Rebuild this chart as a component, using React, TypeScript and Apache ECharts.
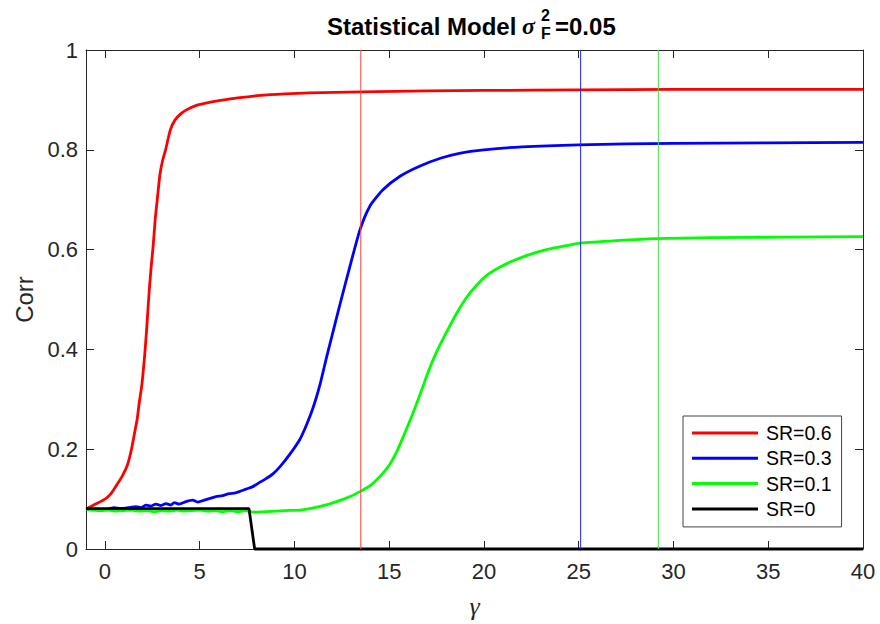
import React, { useEffect, useRef } from "react";
import * as echarts from "echarts";

// ---- data ----
const xTickValues = [0, 5, 10, 15, 20, 25, 30, 35, 40];
const seriesNames = ["SR=0.6", "SR=0.3", "SR=0.1", "SR=0"];

const redX = [-1, -0.5, 0, 0.3, 0.6, 0.9, 1.2, 1.4, 1.55, 1.7, 1.8, 1.95, 2.1, 2.2, 2.34, 2.45, 2.55, 2.65, 2.76, 2.9, 3.05, 3.2, 3.45, 3.7, 4.0, 4.3, 4.9, 5.5, 6.1, 7, 8.2, 9.5, 10.8, 13.5, 17, 20, 25, 30, 35, 40];
const redY = [0.08, 0.09, 0.1, 0.11, 0.127, 0.145, 0.17, 0.2, 0.23, 0.26, 0.29, 0.33, 0.39, 0.44, 0.52, 0.57, 0.61, 0.66, 0.7, 0.75, 0.78, 0.8, 0.84, 0.86, 0.872, 0.88, 0.89, 0.895, 0.899, 0.904, 0.909, 0.912, 0.914, 0.916, 0.918, 0.919, 0.92, 0.921, 0.921, 0.921];

const blueX = [-1, -0.5, 0, 0.5, 0.8, 1.1, 1.4, 1.64, 1.9, 2.17, 2.43, 2.69, 2.96, 3.22, 3.48, 3.66, 3.92, 4.28, 4.63, 4.89, 5.16, 5.51, 5.86, 6.21, 6.56, 6.83, 7.09, 7.44, 7.8, 8.15, 8.5, 8.85, 9.24, 9.76, 10.29, 10.65, 11.0, 11.35, 11.7, 12.0, 12.4, 12.93, 13.46, 13.98, 14.67, 15.57, 16.6, 17.7, 18.7, 20, 22, 25, 30, 35, 40];
const blueY = [0.08, 0.08, 0.079, 0.083, 0.081, 0.082, 0.084, 0.085, 0.083, 0.088, 0.086, 0.09, 0.087, 0.091, 0.088, 0.093, 0.09, 0.095, 0.098, 0.094, 0.097, 0.101, 0.105, 0.107, 0.111, 0.112, 0.115, 0.12, 0.125, 0.133, 0.141, 0.15, 0.165, 0.19, 0.22, 0.25, 0.285, 0.33, 0.385, 0.43, 0.49, 0.567, 0.64, 0.687, 0.72, 0.747, 0.767, 0.783, 0.793, 0.8, 0.806, 0.81, 0.813, 0.814, 0.815];

const greenX = [-1, -0.6, -0.2, 0.2, 0.6, 1.0, 1.4, 1.8, 2.2, 2.6, 3.0, 3.4, 3.8, 4.2, 4.6, 5.0, 5.4, 5.8, 6.2, 6.6, 7.0, 7.4, 7.8, 8.5, 9.5, 10.3, 10.8, 11.4, 11.9, 12.6, 13.0, 13.55, 14.0, 14.5, 15.0, 15.4, 15.74, 16.2, 16.63, 17.06, 17.5, 18.1, 18.6, 19.1, 19.6, 20.1, 20.8, 21.5, 22.4, 23.3, 24.2, 25.1, 27, 29, 32, 36, 40];
const greenY = [0.08, 0.078, 0.077, 0.078, 0.076, 0.077, 0.078, 0.076, 0.077, 0.075, 0.077, 0.076, 0.078, 0.076, 0.077, 0.078, 0.076, 0.077, 0.075, 0.077, 0.075, 0.077, 0.074, 0.075, 0.077, 0.078, 0.081, 0.086, 0.091, 0.1, 0.106, 0.117, 0.127, 0.145, 0.168, 0.195, 0.225, 0.267, 0.31, 0.355, 0.395, 0.44, 0.475, 0.505, 0.528, 0.547, 0.564, 0.577, 0.59, 0.6, 0.607, 0.613, 0.618, 0.622, 0.624, 0.625, 0.626];

const blackX = [-1, 7.6, 7.9, 40];
const blackY = [0.081, 0.081, 0, 0];

const thresholdX = [13.5, 25.1, 29.2];

const zip = (xs: number[], ys: number[]) => xs.map((x, i) => [x, ys[i]]);

const FONT = "'Liberation Sans', Arial, Helvetica, sans-serif";
const AX = "#262626";

export default function App() {
  const ref = useRef<HTMLDivElement>(null);
  useEffect(() => {
    if (!ref.current) return;
    const chart = echarts.init(ref.current, null, { renderer: "svg" });
    const curve = (name: string, color: string, data: number[][], z: number, smooth: number) => ({
      name,
      type: "line",
      data,
      showSymbol: false,
      symbol: "none",
      clip: false,
      smooth,
      z,
      lineStyle: { color, width: 2.8 },
      itemStyle: { color },
    });
    const vline = (x: number, color: string) => ({
      name: "v" + x,
      type: "line",
      data: [[x, 0], [x, 1]],
      symbol: "none",
      silent: true,
      z: 10,
      lineStyle: { color, width: 1 },
      itemStyle: { color },
    });
    const axisCommon = {
      axisLine: { show: true, onZero: false, lineStyle: { color: AX, width: 1 } },
      splitLine: { show: false },
    };
    chart.setOption({
      animation: false,
      backgroundColor: "#ffffff",
      grid: { left: 86, right: 17, top: 50, bottom: 74, containLabel: false },
      xAxis: [
        {
          type: "value",
          min: -1,
          max: 40,
          ...axisCommon,
          name: "γ",
          nameLocation: "middle",
          nameGap: 44,
          nameTextStyle: { fontFamily: "'Liberation Serif', 'DejaVu Serif', serif", fontStyle: "italic", fontSize: 26, color: AX },
          axisTick: { inside: true, length: 8, customValues: xTickValues, lineStyle: { color: AX } },
          axisLabel: { customValues: xTickValues, fontFamily: FONT, fontSize: 22, color: AX, margin: 11 },
        },
        {
          type: "value",
          position: "top",
          min: -1,
          max: 40,
          ...axisCommon,
          axisTick: { inside: true, length: 8, customValues: xTickValues, lineStyle: { color: AX } },
          axisLabel: { show: false, customValues: xTickValues },
        },
      ],
      yAxis: [
        {
          type: "value",
          min: 0,
          max: 1,
          interval: 0.2,
          ...axisCommon,
          name: "Corr",
          nameLocation: "middle",
          nameGap: 50,
          nameTextStyle: { fontFamily: FONT, fontSize: 24, color: AX },
          axisTick: { inside: true, length: 8, lineStyle: { color: AX } },
          axisLabel: { fontFamily: FONT, fontSize: 22, color: AX, margin: 8 },
        },
        {
          type: "value",
          position: "right",
          min: 0,
          max: 1,
          interval: 0.2,
          ...axisCommon,
          axisTick: { inside: true, length: 8, lineStyle: { color: AX } },
          axisLabel: { show: false },
        },
      ],
      legend: {
        data: seriesNames,
        orient: "vertical",
        left: 683,
        top: 416,
        icon: "rect",
        itemWidth: 66,
        itemHeight: 3,
        itemGap: 5.3,
        padding: [7, 10, 8, 9],
        backgroundColor: "#ffffff",
        borderColor: "#444",
        borderWidth: 1,
        textStyle: { fontFamily: FONT, fontSize: 19.5, lineHeight: 20, color: "#000", padding: [0, 0, 0, 3] },
      },
      graphic: [
        { type: "text", left: 327, top: 14, style: { text: "Statistical Model", font: `bold 24px ${FONT}`, fill: "#000" } },
        { type: "text", left: 522, top: 14, style: { text: "σ", font: `italic bold 24px 'Liberation Serif', 'DejaVu Serif', serif`, fill: "#000" } },
        { type: "text", left: 541, top: 7, style: { text: "2", font: `bold 16px ${FONT}`, fill: "#000" } },
        { type: "text", left: 541, top: 25, style: { text: "F", font: `bold 16px ${FONT}`, fill: "#000" } },
        { type: "text", left: 555, top: 14, style: { text: "=0.05", font: `bold 24px ${FONT}`, fill: "#000" } },
      ],
      series: [
        curve(seriesNames[0], "#ff0000", zip(redX, redY), 2, 0.2),
        curve(seriesNames[1], "#0000ff", zip(blueX, blueY), 3, 0.2),
        curve(seriesNames[2], "#00ff00", zip(greenX, greenY), 4, 0.2),
        curve(seriesNames[3], "#000000", zip(blackX, blackY), 5, 0),
        vline(thresholdX[0], "#ff4040"),
        vline(thresholdX[1], "#2020ff"),
        vline(thresholdX[2], "#40e040"),
      ],
    });
    return () => chart.dispose();
  }, []);
  return <div ref={ref} style={{ position: "fixed", left: 0, top: 0, width: 880, height: 624 }} />;
}
